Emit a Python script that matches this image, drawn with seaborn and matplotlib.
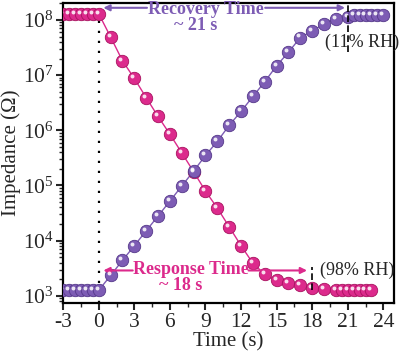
import numpy as np
import pandas as pd
import matplotlib
matplotlib.use('Agg')
import matplotlib.pyplot as plt
import matplotlib.transforms as mtransforms
from matplotlib.ticker import MultipleLocator
import seaborn as sns

# response: 11% RH -> 98% RH (impedance falls)
resp_time = [-3, -2.5, -2, -1.5, -1, -0.5, 0, 1, 2, 3, 4, 5, 6, 7, 8, 9, 10, 11, 12,
             13, 14, 15, 16, 17, 18, 19, 20, 20.5, 21, 21.5, 22, 22.5, 23]
resp_z = [1.29e8, 1.29e8, 1.29e8, 1.29e8, 1.29e8, 1.29e8, 1.29e8, 4.9e7, 1.82e7, 8.7e6,
          3.9e6, 1.78e6, 8.5e5, 3.9e5, 1.78e5, 7.9e4, 3.9e4, 1.78e4, 8.1e3, 3.9e3,
          2.45e3, 1.9e3, 1.7e3, 1.55e3, 1.38e3, 1.32e3, 1.26e3, 1.26e3, 1.26e3,
          1.26e3, 1.26e3, 1.26e3, 1.26e3]

# recovery: 98% RH -> 11% RH (impedance rises)
rec_time = [-3, -2.5, -2, -1.5, -1, -0.5, 0, 1, 2, 3, 4, 5, 6, 7, 8, 9, 10, 11, 12,
            13, 14, 15, 16, 17, 18, 19, 20, 21, 21.5, 22, 22.5, 23, 23.5, 24]
rec_z = [1.26e3, 1.26e3, 1.26e3, 1.26e3, 1.26e3, 1.26e3, 1.26e3, 2.34e3, 4.4e3, 8.1e3,
         1.51e4, 2.8e4, 5.2e4, 9.8e4, 1.82e5, 3.5e5, 6.3e5, 1.23e6, 2.2e6, 4.1e6,
         7.6e6, 1.48e7, 2.6e7, 4.8e7, 6.3e7, 8.5e7, 1.05e8, 1.12e8, 1.23e8, 1.23e8,
         1.23e8, 1.23e8, 1.23e8, 1.23e8]

x_ticks = [-3, 0, 3, 6, 9, 12, 15, 18, 21, 24]

pink = '#DC2A8C'
purple = '#7D5CB4'

sns.set_style('ticks')
plt.rcParams['font.family'] = ['Liberation Serif', 'DejaVu Serif']
plt.rcParams['mathtext.fontset'] = 'custom'
plt.rcParams['mathtext.rm'] = 'Liberation Serif'

resp = pd.DataFrame({'t': resp_time, 'z': resp_z})
rec = pd.DataFrame({'t': rec_time, 'z': rec_z})

fig, ax = plt.subplots(figsize=(4, 3.54), dpi=100)
fig.subplots_adjust(left=0.158, right=0.985, top=0.992, bottom=0.144)

# highlight offset for the "sphere" look
hl = mtransforms.offset_copy(ax.transData, fig=fig, x=-1.5, y=1.5, units='points')

for df, c, edge in [(resp, pink, '#A8125F'), (rec, purple, '#55388A')]:
    sns.lineplot(data=df, x='t', y='z', color=c, lw=1, ax=ax, zorder=2)
    sns.scatterplot(data=df, x='t', y='z', color=c, s=80, edgecolor=edge,
                    linewidth=0.6, ax=ax, zorder=3)
    ax.scatter(df['t'], df['z'], s=8, color='white', alpha=0.85, lw=0,
               transform=hl, zorder=4)

ax.set_yscale('log')
ax.set_xlim(-3, 24.9)
ax.set_ylim(10 ** 2.87, 10 ** 8.31)
ax.set_xticks(x_ticks)
ax.set_xticklabels([str(v) for v in x_ticks])
ax.xaxis.set_minor_locator(MultipleLocator(1.5))

ax.tick_params(which='major', direction='out', length=5, width=1.5, labelsize=15.5,
               top=False, right=False, pad=2)
ax.tick_params(which='minor', direction='out', length=3, width=1.0, top=False, right=False)
for s in ax.spines.values():
    s.set_linewidth(1.6)
    s.set_color('black')

ax.set_xlabel('Time (s)', fontsize=15, labelpad=0)
ax.set_ylabel('Impedance (Ω)', fontsize=15, labelpad=1)

# guide lines
ax.axvline(0, color='black', ls=(0, (1, 3.5)), lw=1.6, zorder=1)
ax.plot([21, 21], [10 ** 7.42, 10 ** 8.31], color='black', ls=(0, (4, 2)), lw=1.2, zorder=5)
ax.plot([18, 18], [10 ** 3.1, 10 ** 3.53], color='black', ls=(0, (4, 2)), lw=1.2, zorder=5)

# recovery annotation
y_rec = 10 ** 8.22
ax.annotate('', xy=(0.15, y_rec), xytext=(4.3, y_rec),
            arrowprops=dict(arrowstyle='-|>', color=purple, lw=1.5, mutation_scale=9))
ax.annotate('', xy=(21, y_rec), xytext=(13.8, y_rec),
            arrowprops=dict(arrowstyle='-|>', color=purple, lw=1.5, mutation_scale=9))
ax.text(9.0, 10 ** 8.19, 'Recovery Time', color=purple, fontsize=13, fontweight='bold',
        ha='center', va='center')
ax.text(8.2, 10 ** 7.9, '~ 21 s', color=purple, fontsize=13, fontweight='bold',
        ha='center', va='center')

# response annotation
y_resp = 10 ** 3.46
ax.annotate('', xy=(0.15, y_resp), xytext=(3.1, y_resp),
            arrowprops=dict(arrowstyle='-|>', color=pink, lw=1.5, mutation_scale=9))
ax.annotate('', xy=(17.8, y_resp), xytext=(12.4, y_resp),
            arrowprops=dict(arrowstyle='-|>', color=pink, lw=1.5, mutation_scale=9))
ax.text(7.8, 10 ** 3.48, 'Response Time', color=pink, fontsize=13, fontweight='bold',
        ha='center', va='center')
ax.text(6.9, 10 ** 3.18, '~ 18 s', color=pink, fontsize=13, fontweight='bold',
        ha='center', va='center')

ax.text(22.2, 10 ** 7.6, '(11% RH)', fontsize=13, ha='center', va='center')
ax.text(21.8, 10 ** 3.46, '(98% RH)', fontsize=13, ha='center', va='center')

fig.savefig('out.png', dpi=100)
